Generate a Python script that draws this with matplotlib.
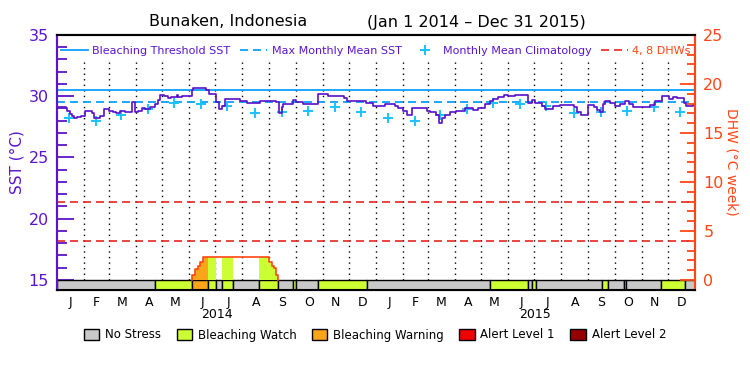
import numpy as np
import pandas as pd
import matplotlib
matplotlib.use('Agg')
import matplotlib.pyplot as plt
from matplotlib.patches import Patch

# days since Jan 1 2014
sst_days = [0, 10, 12, 15, 17, 19, 23, 28, 32, 40, 42, 49, 54, 59, 64, 68, 72, 78, 86, 89,
            93, 97, 101, 106, 112, 116, 118, 122, 127, 131, 137, 139, 143, 154, 156, 171, 174,
            182, 185, 189, 192, 209, 217, 232, 251, 254, 258, 259, 270, 274, 282, 290, 299,
            310, 328, 332, 354, 362, 375, 387, 390, 396, 400, 406, 423, 427, 434, 437, 440,
            444, 450, 457, 467, 471, 476, 482, 490, 495, 499, 505, 511, 516, 524, 539, 543,
            547, 555, 558, 568, 576, 591, 595, 600, 607, 614, 618, 621, 625, 627, 633, 638,
            644, 650, 654, 659, 679, 684, 692, 700, 705, 709, 717, 720, 728, 730]
sst_vals = [29.1, 29.0, 28.8, 28.55, 28.35, 28.2, 28.3, 28.35, 28.8, 28.65, 28.25, 28.35,
            28.95, 28.8, 28.7, 28.6, 28.8, 28.7, 29.5, 28.7, 28.8, 29.05, 28.95, 29.15, 29.35,
            29.7, 30.1, 30.0, 29.85, 29.95, 30.1, 29.9, 30.0, 30.55, 30.65, 30.55, 30.2, 29.5,
            28.95, 29.2, 29.75, 29.6, 29.45, 29.6, 29.5, 28.6, 29.1, 29.35, 29.7, 29.5, 29.35,
            29.4, 30.2, 30.0, 29.85, 29.65, 29.45, 29.2, 29.35, 29.2, 29.05, 28.8, 28.5, 29.05,
            28.8, 28.7, 28.5, 27.85, 28.2, 28.5, 28.7, 28.8, 29.0, 29.05, 28.9, 29.05, 29.35,
            29.6, 29.75, 29.9, 30.08, 30.0, 30.08, 29.45, 29.7, 29.45, 29.2, 28.95, 29.2, 29.3,
            29.1, 28.75, 28.5, 29.25, 29.15, 28.85, 28.75, 29.35, 29.6, 29.45, 29.2, 29.35,
            29.6, 29.35, 29.15, 29.3, 29.6, 30.0, 29.75, 29.9, 29.85, 29.45, 29.2, 29.25, 29.25]

clim_vals = [28.25, 28.0, 28.45, 28.95, 29.45, 29.35, 29.2, 28.6, 28.75, 28.8, 29.15, 28.75]
mmm = 29.5
threshold = 30.5

dhw_days = [155, 158, 161, 164, 167, 243, 246, 248, 251, 253]
dhw_vals = [0.5, 1.1, 1.45, 1.8, 2.35, 1.8, 1.45, 1.2, 0.5, 0.0]

stress_bounds = [0, 112, 155, 173, 182, 189, 201, 231, 253, 270, 274, 299, 355, 495, 539,
                 543, 548, 624, 631, 649, 651, 691, 719, 730]
stress_level = [0, 1, 2, 1, 0, 1, 0, 1, 0, 1, 0, 1, 0, 1, 0, 1, 0, 1, 0, 1, 0, 1, 0]

stress_names = ['No Stress', 'Bleaching Watch', 'Bleaching Warning', 'Alert Level 1', 'Alert Level 2']
stress_colors = ['#c8c8c8', '#ccff33', '#faa51a', '#f00000', '#960000']
month_letters = ['J', 'F', 'M', 'A', 'M', 'J', 'J', 'A', 'S', 'O', 'N', 'D']

purple = '#5a14cc'
sstcol = '#5a0fc8'
orange = '#ff4614'
reddash = '#e8261f'
blue = '#0aa0ff'
cyan = '#19c3ff'

months = pd.date_range('2014-01-01', '2016-01-01', freq='MS')
mstart = np.array((months - months[0]).days)
mcenter = (mstart[:-1] + mstart[1:]) / 2.0

ybot = 14.18

fig = plt.figure(figsize=(7.5, 3.75), dpi=100)
ax = fig.add_axes([57/750, 85/375, 638/750, 255/375])
ax.set_xlim(0, 730)
ax.set_ylim(ybot, 35)
ax2 = ax.twinx()
ax2.set_ylim((ybot - 15) * 1.25, 25)

# dotted month lines
ax.vlines(mstart[1:-1], 15, 32.8, colors='k', linestyles=(0, (1, 3)), lw=1, zorder=1)

# threshold / mmm / climatology
hthr = ax.axhline(threshold, color=blue, lw=1.3, zorder=2)
hmmm = ax.axhline(mmm, color=blue, lw=1.3, dashes=(4.4, 2.8), zorder=2)
hclim, = ax.plot(mstart[:-1] + 14, clim_vals * 2, '+', color=cyan, ms=7.5, mew=1.4,
                 ls='none', zorder=3)
ax.plot(sst_days, sst_vals, drawstyle='steps-post', color=sstcol, lw=1.2, zorder=4)

# stress bar
segs = [(stress_bounds[i], stress_bounds[i+1] - stress_bounds[i]) for i in range(len(stress_level))]
ax.broken_barh(segs, (ybot, 15 - ybot), facecolors=[stress_colors[l] for l in stress_level],
               edgecolors='k', lw=1, zorder=5)

# DHW area coloured by stress level
dd = np.array(dhw_days)
dv = np.array(dhw_vals)
for i, l in enumerate(stress_level):
    if l == 0:
        continue
    x = np.arange(stress_bounds[i], stress_bounds[i+1] + 1)
    idx = np.searchsorted(dd, x, side='right') - 1
    y = np.where(idx >= 0, dv[np.clip(idx, 0, None)], 0)
    if y.max() > 0:
        ax2.fill_between(x, 0, y, step='post', color=stress_colors[l], lw=0)
ax2.plot([dhw_days[0]] + dhw_days, [0] + dhw_vals, drawstyle='steps-post', color=orange, lw=1.2)

hdhw = ax2.axhline(4, color=reddash, lw=1.2, dashes=(4.8, 3.0))
ax2.axhline(8, color=reddash, lw=1.2, dashes=(4.8, 3.0))

# axes styling
ax.set_yticks(range(15, 36, 5))
ax.set_yticks(range(15, 36), minor=True)
ax.tick_params(axis='y', which='major', direction='in', length=12, width=1.3, color=purple,
               labelcolor=purple, labelsize=11.5, pad=6)
ax.tick_params(axis='y', which='minor', direction='in', length=7, width=1.3, color=purple)
ax2.set_yticks(range(0, 26, 5))
ax2.set_yticks(range(0, 26), minor=True)
ax2.tick_params(axis='y', which='major', direction='in', length=11, width=1.3, color=orange,
                labelcolor=orange, labelsize=11.5, pad=6)
ax2.tick_params(axis='y', which='minor', direction='in', length=6, width=1.3, color=orange)

ax.set_xticks(mcenter)
ax.set_xticklabels(month_letters * 2)
ax.tick_params(axis='x', length=0, labelsize=9, pad=4)
for yr, c in zip(['2014', '2015'], [182.5, 547.5]):
    ax.text(c, -0.098, yr, transform=ax.get_xaxis_transform(), ha='center', va='center', fontsize=9)

for a in (ax, ax2):
    a.spines['left'].set_color(purple)
    a.spines['right'].set_color(orange)
    for s in a.spines.values():
        s.set_linewidth(1.5)

fig.text(17/750, 1 - 162/375, 'SST (\u00b0C)', rotation=90, color=purple, fontsize=11,
         ha='center', va='center')
fig.text(732/750, 1 - 162/375, 'DHW (\u00b0C week)', rotation=270, color=orange, fontsize=10,
         ha='center', va='center')
fig.text(228/750, 1 - 22/375, 'Bunaken, Indonesia', fontsize=11.5, ha='center', va='center')
fig.text(476/750, 1 - 22/375, '(Jan 1 2014 \u2013 Dec 31 2015)', fontsize=11.5, ha='center', va='center')

leg = ax2.legend([hthr, hmmm, hclim, hdhw],
                 ['Bleaching Threshold SST', 'Max Monthly Mean SST', 'Monthly Mean Climatology', '4, 8 DHWs'],
                 loc='upper center', bbox_to_anchor=(0.5, 0.975), ncol=4, frameon=False, fontsize=8,
                 handlelength=2.4, handletextpad=0.4, columnspacing=0.9, borderaxespad=0)
for t, c in zip(leg.get_texts(), [purple, purple, purple, orange]):
    t.set_color(c)

fig.legend([Patch(facecolor=c, edgecolor='k', lw=1) for c in stress_colors], stress_names,
           loc='center', bbox_to_anchor=(0.5, 1 - 335/375), ncol=5, frameon=False, fontsize=8.5,
           handlelength=1.3, handleheight=1.0, handletextpad=0.5, columnspacing=1.3)

fig.savefig('out.png', dpi=100)
